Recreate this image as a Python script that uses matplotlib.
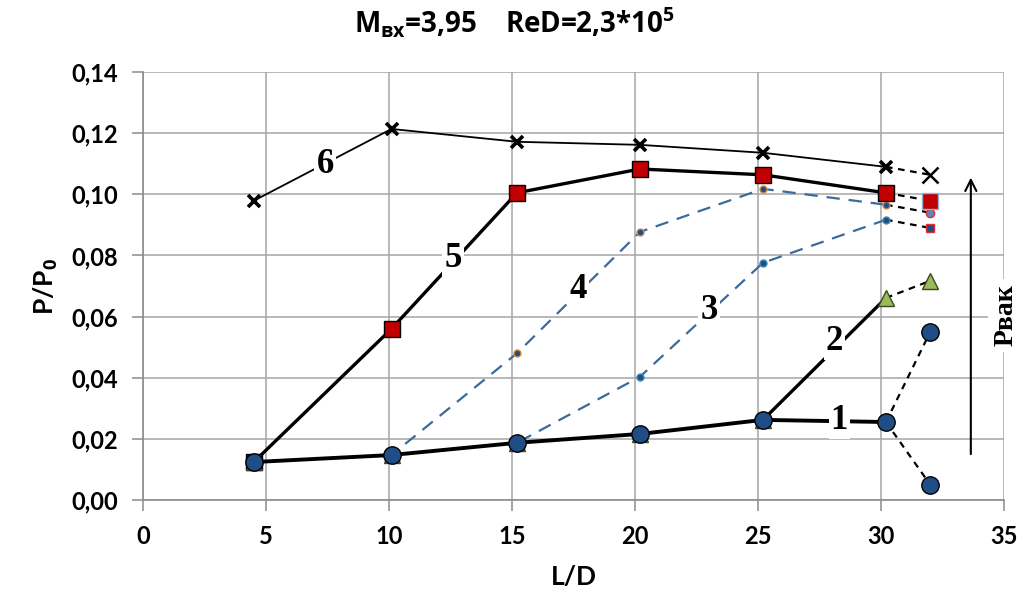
import matplotlib.pyplot as plt

# L/D positions of the measured points and the extra end point
ld = [4.5, 10.1, 15.2, 20.2, 25.2, 30.2]
ld_end = 32.0

# P/P0 for curves 1..6
p1 = [0.0124, 0.0147, 0.0187, 0.0216, 0.0262, 0.0255]
p1_end = [0.055, 0.005]
p2 = [0.0124, 0.0147, 0.0187, 0.0216, 0.0262, 0.0661]
p2_end = 0.0717
p3 = [0.0124, 0.0147, 0.0187, 0.0403, 0.0776, 0.0917]
p3_end = 0.089
p4 = [0.0124, 0.0147, 0.048, 0.0877, 0.1018, 0.0966]
p4_end = 0.094
p5 = [0.0124, 0.056, 0.1005, 0.1083, 0.1064, 0.1005]
p5_end = 0.0979
p6 = [0.0979, 0.1214, 0.1172, 0.1162, 0.1136, 0.109]
p6_end = 0.1064

curve_labels = ["1", "2", "3", "4", "5", "6"]
label_pos = [(28.3, 0.026), (28.1, 0.052), (23.0, 0.062), (17.7, 0.069), (12.6, 0.079), (7.4, 0.1097)]

xticks = [0, 5, 10, 15, 20, 25, 30, 35]
yticks = [0.0, 0.02, 0.04, 0.06, 0.08, 0.10, 0.12, 0.14]

plt.rcParams['mathtext.fontset'] = 'custom'
plt.rcParams['mathtext.rm'] = 'Open Sans'
plt.rcParams['mathtext.bf'] = 'Open Sans:bold'

fig = plt.figure(figsize=(10.24, 6.06), dpi=100)
ax = fig.add_axes([0.1397, 0.175, 0.8408, 0.706])

navy = '#1f4e86'
blue = '#3a6a9e'
ext = dict(color='black', lw=1.6, ls=(0, (3, 2.5)), zorder=2)

# dashed extensions to L/D = 32
for v in p1_end:
    ax.plot([ld[-1], ld_end], [p1[-1], v], **ext)
ax.plot([ld[-1], ld_end], [p2[-1], p2_end], **ext)
ax.plot([ld[-1], ld_end], [p3[-1], p3_end], **ext)
ax.plot([ld[-1], ld_end], [p4[-1], p4_end], **ext)
ax.plot([ld[-1], ld_end], [p5[-1], p5_end], **ext)
ax.plot([ld[-1], ld_end], [p6[-1], p6_end], **ext)

# 6
ax.plot(ld, p6, color='black', lw=1.3, marker='x', ms=9, mew=2.6, zorder=3)
ax.plot([ld_end], [p6_end], color='black', marker='x', ms=11, mew=1.8, ls='none', zorder=3)
# 4 and 3
ax.plot(ld, p4, color=blue, lw=1.6, ls=(0, (6, 4)), marker='o', ms=5,
        mfc=navy, mec='#d08a4a', mew=1, zorder=3)
ax.plot([ld_end], [p4_end], marker='o', ms=6, mfc='#5a86c0', mec='#e03030', ls='none', zorder=3)
ax.plot(ld, p3, color=blue, lw=1.6, ls=(0, (6, 4)), marker='o', ms=5,
        mfc=navy, mec='#3a8ab0', mew=1, zorder=3)
ax.plot([ld_end], [p3_end], marker='s', ms=6, mfc=navy, mec='#e03030', ls='none', zorder=3)
# 5
ax.plot(ld, p5, color='black', lw=2.4, marker='s', ms=12, mfc='#c00000', mec='black', mew=1, zorder=4)
ax.plot([ld_end], [p5_end], marker='s', ms=12, mfc='#c00000', mec='#8fb4d8', mew=1, ls='none', zorder=4)
# 2
ax.plot(ld[-2:], p2[-2:], color='black', lw=2.4, zorder=4)
ax.plot(ld, p2, ls='none', marker='^', ms=11, mfc='#9bbb59', mec='#3a4a20', mew=1, zorder=4)
ax.plot([ld_end], [p2_end], marker='^', ms=12, mfc='#9bbb59', mec='#3a4a20', mew=1, ls='none', zorder=4)
# 1
ax.plot(ld, p1, color='black', lw=2.8, marker='o', ms=12.5, mfc=navy, mec='black', mew=1, zorder=5)
ax.plot([ld_end, ld_end], p1_end, marker='o', ms=12.5, mfc=navy, mec='black', mew=1, ls='none', zorder=5)

for lab, (lx, ly) in zip(curve_labels, label_pos):
    ax.text(lx, ly, lab, family='Liberation Serif', fontsize=25, fontweight='bold',
            ha='center', va='center', zorder=6,
            bbox=dict(facecolor='white', edgecolor='none', pad=1.5))

# vacuum pressure arrow
ax.annotate('', xy=(33.65, 0.1064), xytext=(33.65, 0.0141),
            arrowprops=dict(arrowstyle='->', color='black', lw=1.5, mutation_scale=20), zorder=6)
ax.text(35.1, 0.0605, 'Рвак', family='Liberation Serif', fontsize=20, fontweight='bold', rotation=90,
        ha='center', va='center', zorder=6,
        bbox=dict(facecolor='white', edgecolor='none', pad=4))

ax.set_xlim(0, 35)
ax.set_ylim(0, 0.14)
ax.set_xticks(xticks)
ax.set_yticks(yticks)
ax.set_xticklabels([str(t) for t in xticks], family='Lato', fontsize=17, fontweight='bold')
ax.set_yticklabels([f"{t:.2f}".replace('.', ',') for t in yticks], family='Lato', fontsize=17, fontweight='bold')
ax.grid(True, color='#a6a6a6', lw=1.1)
ax.set_axisbelow(True)
for s in ['top', 'right']:
    ax.spines[s].set_visible(False)
for s in ['left', 'bottom']:
    ax.spines[s].set_color('#8c8c8c')
    ax.spines[s].set_linewidth(1.2)
ax.tick_params(axis='both', color='#8c8c8c', length=8, width=1.1, pad=10)

ax.set_xlabel('L/D', family='Lato', fontsize=19, fontweight='bold', labelpad=12)
ax.set_ylabel(r'P/P$_{\mathbf{0}}$', family='Lato', fontsize=19, fontweight='bold', labelpad=8)
fig.text(0.502, 0.962, r'M$_{\mathbf{вх}}$=3,95    ReD=2,3*10$^{\mathbf{5}}$',
         family='Open Sans', fontsize=20, fontweight='bold', ha='center', va='center')

fig.savefig('out.png', dpi=100)
